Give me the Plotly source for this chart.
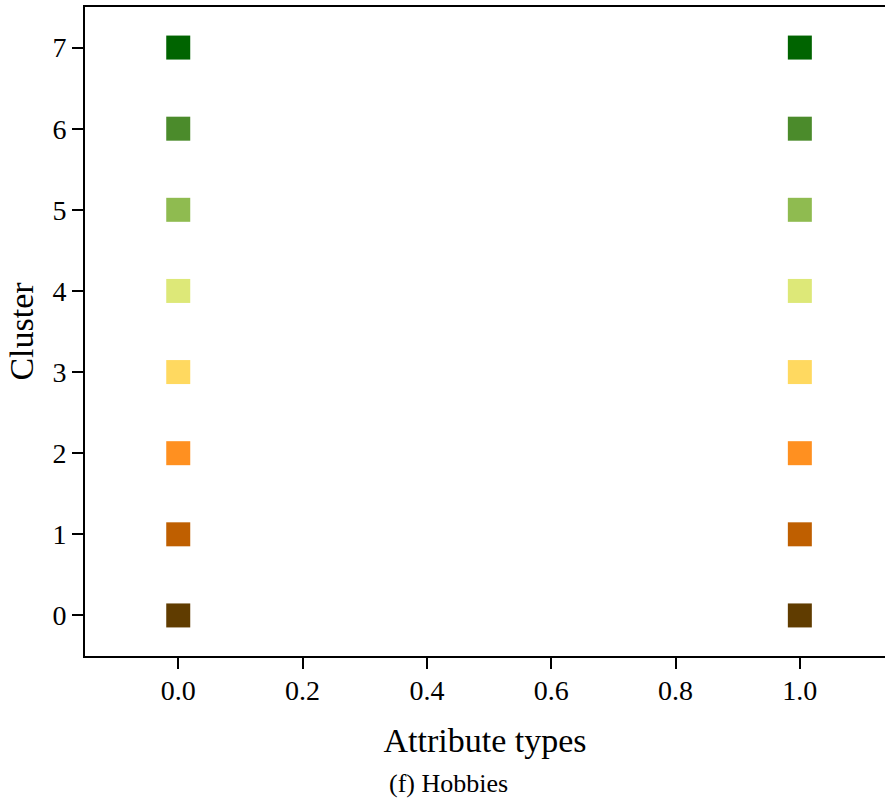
import plotly.graph_objects as go

attribute_types = [0.0, 1.0]
clusters = [0, 1, 2, 3, 4, 5, 6, 7]
cluster_colors = ["#603c00", "#bf5f00", "#ff9020", "#ffd960",
                  "#dde878", "#8fbb50", "#4b8b2b", "#006400"]
x_ticks = [0.0, 0.2, 0.4, 0.6, 0.8, 1.0]
x_tick_labels = ["0.0", "0.2", "0.4", "0.6", "0.8", "1.0"]

fig = go.Figure()
for c, col in zip(clusters, cluster_colors):
    fig.add_trace(go.Scatter(
        x=attribute_types, y=[c] * len(attribute_types), mode="markers",
        marker=dict(symbol="square", size=24, color=col, line=dict(width=0)),
        showlegend=False, hoverinfo="skip"))

font = "Liberation Serif, Times New Roman, serif"
fig.update_layout(
    width=885, height=807, margin=dict(l=85, r=0, t=7, b=151),
    paper_bgcolor="white", plot_bgcolor="white",
    font=dict(family=font, color="black"),
    xaxis=dict(range=[-0.15, 1.137], tickvals=x_ticks, ticktext=x_tick_labels,
               showline=True, linecolor="black", linewidth=2, mirror=True,
               ticks="outside", ticklen=11, tickwidth=2, tickcolor="black",
               ticklabelstandoff=-3,
               showgrid=False, zeroline=False, tickfont=dict(size=28),
               title=dict(text="Attribute types", font=dict(size=34), standoff=24)),
    yaxis=dict(range=[-0.5, 7.5], tickvals=clusters,
               showline=True, linecolor="black", linewidth=2, mirror=False,
               ticks="outside", ticklen=11, tickwidth=2, tickcolor="black",
               ticklabelstandoff=0,
               showgrid=False, zeroline=False, tickfont=dict(size=28),
               title=dict(text="Cluster", font=dict(size=34), standoff=9)),
    annotations=[dict(text="(f) Hobbies", x=(448 - 85) / 800, y=-(783 - 656) / 649,
                      xref="paper", yref="paper",
                      showarrow=False, font=dict(size=26, family=font), yanchor="middle")],
)
fig.write_html("out.html")
